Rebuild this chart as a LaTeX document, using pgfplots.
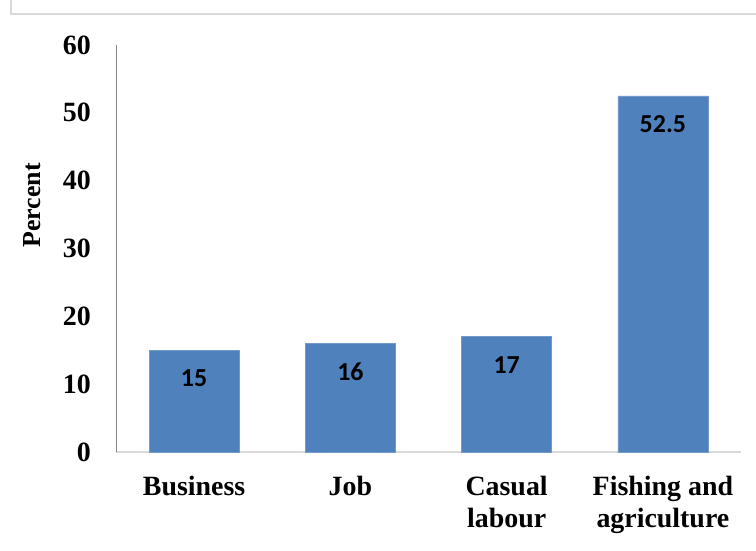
\documentclass[border=0pt]{standalone}
\usepackage{pgfplots}
\pgfplotsset{compat=1.18}
\usepackage{fontspec}
\setmainfont{Liberation Serif}
\newfontfamily\calibri{Carlito}
\definecolor{barblue}{HTML}{4F81BD}
\definecolor{frame}{HTML}{D9D9D9}
\definecolor{yline}{HTML}{868686}
\begin{document}
\begin{tikzpicture}[x=1bp,y=1bp]
\useasboundingbox (0,0) rectangle (756,551);
\draw[frame, line width=2bp] (11,551) -- (11,537) -- (757,537);
\begin{axis}[
  at={(116bp,99bp)}, anchor=south west,
  scale only axis,
  width=625bp, height=407bp,
  xmin=-0.5, xmax=3.5,
  ymin=0, ymax=60,
  ytick={0,10,...,60},
  xtick=data,
  xticklabels={Business, Job, {Casual\\labour}, {Fishing and\\agriculture}},
  axis x line*=bottom,
  axis y line*=left,
  x axis line style={frame, line width=1.5bp, -},
  y axis line style={yline, line width=1bp, -},
  major tick length=0pt,
  tick style={draw=none},
  /pgf/number format/assume math mode=true,
  yticklabel style={font=\fontsize{28}{32}\selectfont\bfseries, inner sep=0pt, xshift=-25bp},
  xticklabel style={font=\fontsize{28}{32}\selectfont\bfseries, align=center, anchor=north, inner sep=0pt, yshift=-24bp},
  ylabel={Percent},
  ylabel style={font=\fontsize{26}{30}\selectfont\bfseries, at={(axis description cs:-0.1344,0.6056)}, anchor=center, rotate=0},
  ybar, bar width=90bp,
  nodes near coords,
  nodes near coords style={font=\fontsize{26}{30}\selectfont\calibri\bfseries, anchor=center, yshift=-28bp},
  clip=false,
]
\addplot[fill=barblue, draw=barblue!80!white, line width=0.6bp] coordinates {(0,15) (1,16) (2,17) (3,52.5)};
\end{axis}
\end{tikzpicture}
\end{document}
